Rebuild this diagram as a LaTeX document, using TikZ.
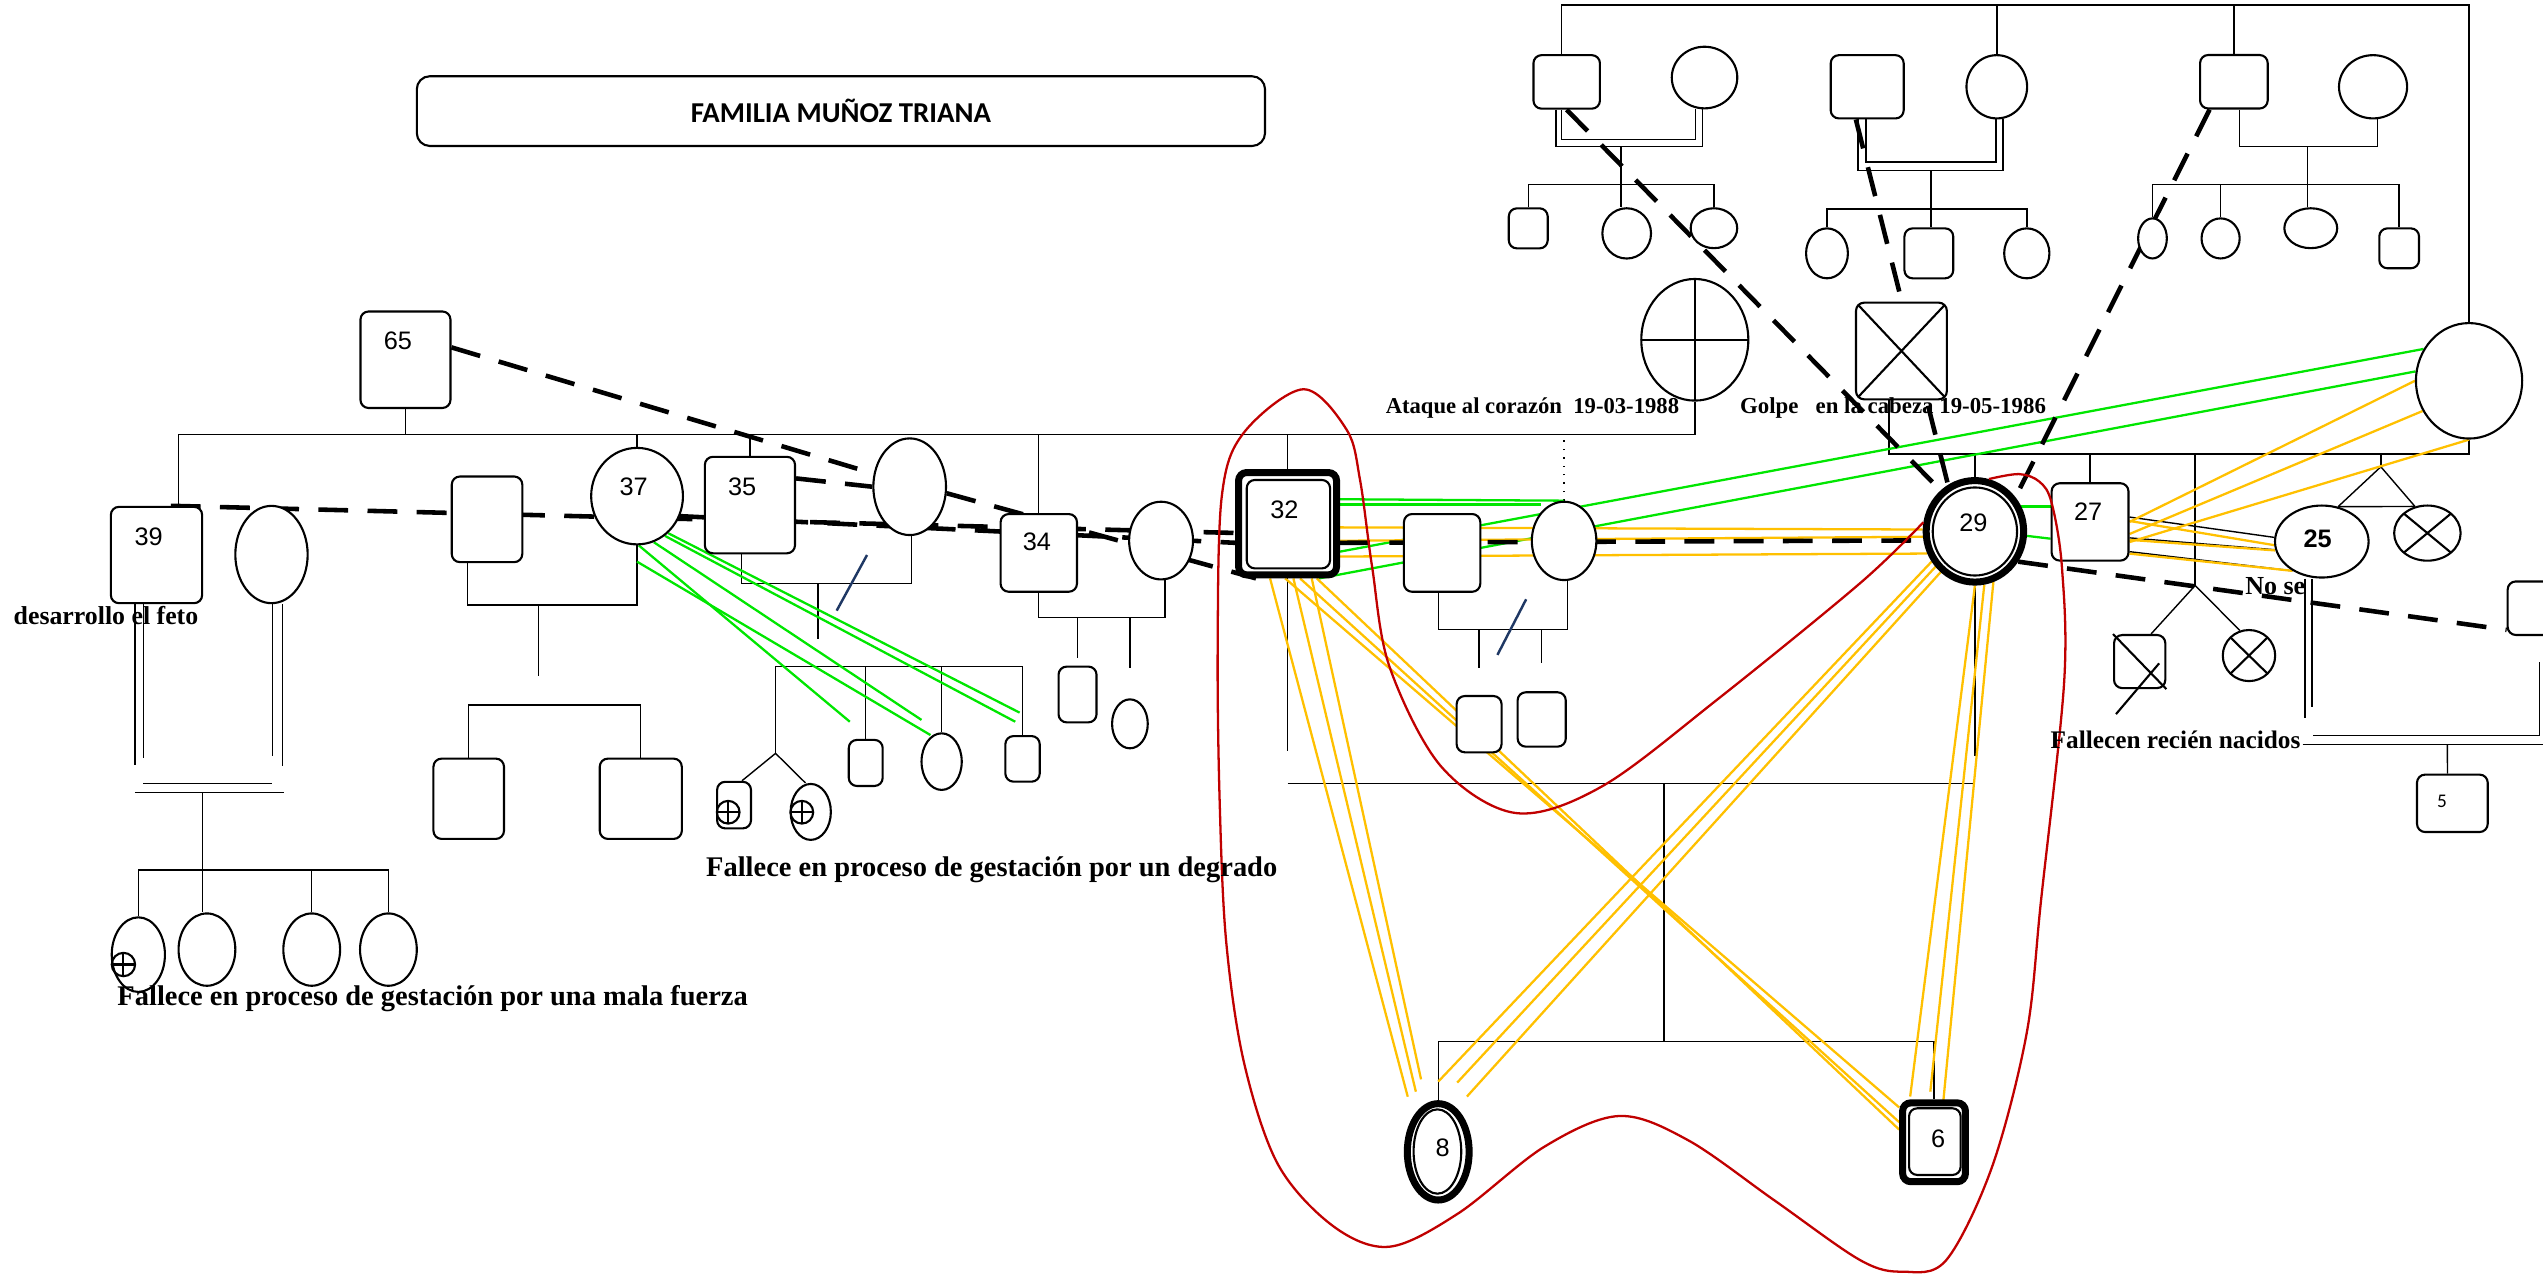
\documentclass[tikz,border=0pt]{standalone}
\usepackage{fontspec}
\setmainfont{Liberation Serif}
\setsansfont{Liberation Sans}
\newfontfamily\titlefont{Carlito}
\usetikzlibrary{
		positioning,
		shapes.geometric,
		backgrounds
	}
\tikzset{
		>=stealth
	}
\definecolor{kingreen}{RGB}{0, 230, 0}
\definecolor{kinamber}{RGB}{255, 192, 0}
\definecolor{loopred}{RGB}{192, 0, 0}
\definecolor{darknavy}{RGB}{31, 56, 100}
\newdimen\gu
\gu=0.016218cm

\begin{document}
\begin{tikzpicture}
		[x=0.016218cm, y=-0.016218cm,
		line width=0.6pt,
		man/.style 2 args= {draw, fill=white, rounded corners=5\gu, minimum width=#1\gu, minimum height=#2\gu, inner sep=0pt},
		woman/.style 2 args= {draw, fill=white, ellipse, minimum width=#1\gu, minimum height=#2\gu, inner sep=0pt},
		index/.style= {line width=2pt},
		gone/.style= {path picture={\draw[line width=0.6pt] (path picture bounding box.north west) -- (path picture bounding box.south east) (path picture bounding box.north east) -- (path picture bounding box.south west);}},
		lost/.style= {path picture={\draw[line width=0.6pt] (path picture bounding box.north) -- (path picture bounding box.south) (path picture bounding box.west) -- (path picture bounding box.east);}},
		lost mark/.style= {draw, circle, minimum size=14\gu, inner sep=0pt, lost},
		age/.style= {font=\sffamily\fontsize{7.2}{8}\selectfont, inner sep=0pt},
		note/.style= {font=\bfseries\fontsize{8.1}{9}\selectfont, inner sep=0pt, anchor=base west},
		bond/.style= {line width=1.3pt, dash pattern=on 8.5pt off 5.5pt},
		green tie/.style= {kingreen, line width=0.65pt},
		amber tie/.style= {kinamber, line width=0.65pt}
		]

		\useasboundingbox (0,0) rectangle (1568,786);

		\node [man={523}{43}, rounded corners=8\gu, font=\titlefont\bfseries\fontsize{8.2}{10}\selectfont] (title) at (518.5,68.5) {FAMILIA MUÑOZ TRIANA};

		\node [man={41}{33}] (gA) at (966,50.5) {};
		\node [woman={40.4}{38}] (gAw) at (1051,47.8) {};
		\node [man={45}{39}] (gB) at (1151.3,53.5) {};
		\node [woman={37.4}{39}] (gBw) at (1231.2,53.5) {};
		\node [man={41.7}{33}] (gC) at (1377.4,50.4) {};
		\node [woman={42}{39}] (gCw) at (1463.2,53.5) {};

		\node [man={24}{24.7}] (a1) at (942.3,140.8) {};
		\node [woman={30}{31}] (a2) at (1003,143.9) {};
		\node [woman={28.7}{24.6}] (a3) at (1056.8,140.7) {};
		\node [woman={25.8}{30.8}] (b1) at (1126.5,156.2) {};
		\node [man={30.1}{30.8}] (b2) at (1189.3,156.2) {};
		\node [woman={27.9}{30.8}] (b3) at (1249.7,156.2) {};
		\node [woman={17.7}{24.7}] (c1) at (1327.2,147) {};
		\node [woman={23.5}{24.7}] (c2) at (1369.2,147) {};
		\node [woman={32.6}{24.6}] (c3) at (1424.8,140.7) {};
		\node [man={24.5}{24.6}] (c4) at (1479.3,153.1) {};

		\node [woman={66}{75}, lost] (w65) at (1045,209.5) {};
		\node [man={56}{59.6}, gone] (hDead) at (1172.4,216.4) {};
		\node [woman={65.5}{71.2}] (bigW) at (1522.4,234.8) {};

		\node [man={55.5}{59.5}] (p65) at (250,221.8) {};
		\node [age] (t65) at (245.3,210.1) {65};

		\node [man={56.3}{59.4}] (p39) at (96.5,342.2) {};
		\node [age] (t39) at (91.7,330.7) {39};
		\node [woman={44.6}{60}] (w39) at (167.4,341.9) {};
		\node [man={43.5}{52.8}] (h37) at (300.3,320.2) {};
		\node [woman={56.6}{59.5}] (p37) at (392.8,305.9) {};
		\node [age] (t37) at (390.7,300.4) {37};
		\node [man={55.6}{59.5}] (p35) at (462.4,311.4) {};
		\node [age] (t35) at (457.6,300.4) {35};
		\node [woman={44.8}{59.6}] (w35) at (560.9,300.1) {};
		\node [man={47.1}{47.9}] (p34) at (640.5,340.9) {};
		\node [age] (t34) at (639.4,334.3) {34};
		\node [woman={39.4}{47.9}] (w34) at (715.9,333.3) {};
		\node [man={60.4}{63.1}, index] (p32) at (793.9,322.9) {};
		\node [man={51.4}{54.5}, fill=none] (p32in) at (794.4,323.2) {};
		\node [age] (t32) at (791.9,314.3) {32};
		\node [man={47.1}{47.9}] (pU) at (889.2,340.9) {};
		\node [woman={39.8}{48.3}] (wU) at (964.4,333.5) {};
		\node [woman={60.1}{62.6}, index] (p29) at (1217.7,327.6) {};
		\node [woman={52}{54.3}, fill=none] (p29in) at (1217.7,327.7) {};
		\node [age] (t29) at (1216.8,322.5) {29};
		\node [man={47.4}{47.7}] (p27) at (1288.7,321.8) {};
		\node [age] (t27) at (1287.5,315.2) {27};
		\node [woman={57.7}{44.4}] (p25) at (1431.6,333.9) {};
		\node [age, font=\sffamily\bfseries\fontsize{7.2}{8}\selectfont] (t25) at (1429,332.3) {25};
		\node [woman={41}{34}, gone] (x25) at (1496.7,328.7) {};
		\node [man={31.6}{32.7}] (dNb1) at (1319.3,407.9) {};
		\node [woman={32.3}{31.5}, gone] (dNb2) at (1386.7,404.2) {};
		\node [man={45}{33}] (pR) at (1568.7,375) {};
		\node [man={43.6}{35.4}] (p5) at (1512.1,495.3) {};
		\node [font=\titlefont\fontsize{5.5}{6}\selectfont, inner sep=0pt] (t5) at (1505.7,494) {5};

		\node [man={43.5}{49.5}] (k37a) at (289,492.5) {};
		\node [man={50.6}{49.5}] (k37b) at (395.1,492.5) {};
		\node [man={20.9}{28.7}] (k35a) at (452.6,496.4) {};
		\node [woman={24.8}{34.5}] (k35b) at (499.9,500.6) {};
		\node [lost mark] (l35a) at (449,500.8) {};
		\node [lost mark] (l35b) at (494.4,500.8) {};
		\node [man={20.9}{28.4}] (k35c) at (533.8,470.4) {};
		\node [woman={24.8}{34.9}] (k35d) at (580.6,469.6) {};
		\node [man={21.2}{28.1}] (k35e) at (630.5,467.9) {};
		\node [man={23.4}{34.4}] (k34a) at (664.4,428.2) {};
		\node [woman={22}{30.2}] (k34b) at (696.7,446.3) {};
		\node [man={27.7}{34.7}] (kUa) at (912,446.5) {};
		\node [man={29.7}{33.5}] (kUb) at (950.6,443.6) {};
		\node [woman={32.8}{46}] (k39a) at (85.3,588.6) {};
		\node [lost mark, minimum size=14.4\gu] (l39a) at (76.1,594.7) {};
		\node [woman={35}{44.6}] (k39b) at (127.6,585.5) {};
		\node [woman={35}{44.6}] (k39c) at (192.2,585.5) {};
		\node [woman={35}{44.6}] (k39d) at (239.5,585.5) {};
		\node [woman={38.1}{59.4}, index] (p8) at (886.8,710.2) {};
		\node [woman={29.4}{52}, fill=none] (p8in) at (886.3,710) {};
		\node [age] (t8) at (889.5,707.5) {8};
		\node [man={38.7}{48.6}, index] (p6) at (1192.5,704.3) {};
		\node [man={31.8}{41.1}, fill=none] (p6in) at (1193,703.9) {};
		\node [age] (t6) at (1195,702.3) {6};

		\draw (dNb1.north west) -- (dNb1.south east);
		\draw ([shift={(12\gu,-1.1\gu)}]dNb1.center) -- ++(-26.6,31.3);

		\coordinate (topL) at (962.8,3);
		\coordinate (mA) at (999.4,90.5);
		\coordinate (mAin) at (999.4,86);
		\coordinate (kA) at (999.4,113.8);
		\coordinate (mB) at (1190.6,105.2);
		\coordinate (mBin) at (1190.6,100);
		\coordinate (kB) at (1190.6,128.8);
		\coordinate (mC) at (1422.7,90.4);
		\coordinate (kC) at (1422.7,113.8);
		\coordinate (sib) at (110,268);
		\coordinate (m39) at (124.8,488.8);
		\coordinate (kid39) at (124.8,536.4);
		\coordinate (m37) at (332,373);
		\coordinate (kid37) at (332,434.7);
		\coordinate (m35) at (504.3,359.7);
		\coordinate (kid35) at (478.2,411);
		\coordinate (tw35) at (478.2,464.5);
		\coordinate (m34) at (678,380.6);
		\coordinate (mU) at (926,388);
		\coordinate (m32) at (1026,483);
		\coordinate (kid32) at (1026,642);
		\coordinate (sib29) at (1164.7,280);
		\coordinate (tw1) at (1468,287.8);
		\coordinate (tw2) at (1353.5,361);
		\coordinate (mR) at (1566,453.5);
		\coordinate (mR2) at (1509,459.2);
		\coordinate (slashA) at (515.9,376.5);
		\coordinate (slashB) at (534.6,342.2);
		\coordinate (slashC) at (923.3,403.8);
		\coordinate (slashD) at (941,369.5);
		\coordinate (gE1) at (524,445);
		\coordinate (gE2) at (568.2,443.9);
		\coordinate (gE3) at (573.7,453.2);
		\coordinate (gE4) at (626,445);
		\coordinate (gE5) at (628.7,439.4);
		\coordinate (o8a) at (868,676.2);
		\coordinate (o8b) at (873,673.1);
		\coordinate (o8c) at (876.2,665.5);
		\coordinate (o8d) at (886.8,666.9);
		\coordinate (o8e) at (898.5,667.5);
		\coordinate (o8f) at (904.5,676.1);
		\coordinate (o6a) at (1177.8,676.1);
		\coordinate (o6b) at (1190.2,673.1);
		\coordinate (o6c) at (1198.3,678.2);

		\begin{pgfonlayer}{background}
		\draw (gA.north -| topL) -- (topL) -| (bigW.north);
		\draw (gBw.north) -- (gBw.north |- topL);
		\draw (gC.north) -- (gC.north |- topL);
		\draw ([xshift=-6.6\gu]gA.south) |- (mA) -| ([xshift=-1.4\gu]gAw.south);
		\draw ([xshift=-3.2\gu]gA.south) |- (mAin) -| ([xshift=-5.7\gu]gAw.south);
		\draw (mA) -- (mA |- a2.north);
		\draw (a1.north) |- (kA) -| (a3.north);
		\draw ([xshift=-5.8\gu]gB.south) |- (mB) -| ([xshift=3.7\gu]gBw.south);
		\draw ([xshift=-0.7\gu]gB.south) |- (mBin) -| ([xshift=-0.6\gu]gBw.south);
		\draw (mB) -- (mB |- b2.north);
		\draw (b1.north) |- (kB) -| (b3.north);
		\draw ([xshift=3.5\gu]gC.south) |- (mC) -| ([xshift=2.8\gu]gCw.south);
		\draw (mC) -- (mC |- c3.north);
		\draw (c1.north) |- (kC) -| (c4.north);
		\draw (c2.north) -- (c2.north |- kC);

		\draw (p39.north -| sib) |- (w65.south |- sib) -- (w65.south);
		\draw (p65.south) -- (p65.south |- sib);
		\draw (p37.north) -- (p37.north |- sib);
		\draw (p35.north) -- (p35.north |- sib);
		\draw (p34.north) -- (p34.north |- sib);
		\draw (p32.north) -- (p32.north |- sib);
		\draw [dotted] (wU.north) -- (wU.north |- sib);

		\draw ([xshift=-13.3\gu]p39.south) -- ++(0,99);
		\draw ([xshift=-8\gu]p39.south) -- ++(0,94.6);
		\draw ([xshift=0.7\gu]w39.south) -- ++(0,93.6);
		\draw ([xshift=6.7\gu]w39.south) -- ++(0,99.8);
		\draw (m39) ++(-41.6,0) -- ++(91.9,0);
		\draw (m39) ++(-36.4,-5.8) -- ++(79.1,0);
		\draw (m39) -- (m39 |- k39b.north);
		\draw (k39a.north) |- (kid39) -| (k39d.north);
		\draw (k39c.north) -- (k39c.north |- kid39);

		\draw ([xshift=-11.9\gu]h37.south) |- (m37) -| (p37.south);
		\draw (m37) -- ++(0,44);
		\draw (k37a.north) |- (kid37) -| (k37b.north);

		\draw ([xshift=-5.1\gu]p35.south) |- (m35) -| ([xshift=1\gu]w35.south);
		\draw (m35) -- ++(0,34.3);
		\draw (tw35) -- (kid35) -| (k35e.north);
		\draw (k35c.north) -- (k35c.north |- kid35);
		\draw (k35d.north) -- (k35d.north |- kid35);
		\draw ([xshift=4.9\gu]k35a.north) -- (tw35) -- ([xshift=-3.3\gu]k35b.north);
		\draw [darknavy, line width=0.7pt] (slashA) -- (slashB);

		\draw (p34.south) |- (m34) -| ([xshift=2.3\gu]w34.south);
		\draw (k34a.north |- m34) -- ++(0,25.3);
		\draw (k34b.north |- m34) -- ++(0,31.4);

		\draw ([xshift=-2.4\gu]pU.south) |- (mU) -| ([xshift=2.1\gu]wU.south);
		\draw (kUa.north |- mU) -- ++(0,24);
		\draw (kUb.north |- mU) -- ++(0,21);
		\draw [darknavy, line width=0.7pt] (slashC) -- (slashD);

		\draw (p32.south) -- ++(0,106.5);
		\draw (p29.south) -- ++(0,105);
		\draw (p32.south |- m32) -- (p29.south |- m32);
		\draw (m32) -- (kid32);
		\draw (p8.north) |- (kid32) -| (p6.north);

		\draw (hDead.south -| sib29) -- (sib29) -| (bigW.south);
		\draw (p29.north) -- (p29.north |- sib29);
		\draw (p27.north) -- (p27.north |- sib29);
		\draw (tw1 |- sib29) -- (tw1);
		\draw (p25.65) -- (tw1) -- (x25.115);
		\draw (p25.65) -- (x25.115);
		\draw (tw2 |- sib29) -- (tw2);
		\draw ([xshift=7\gu]dNb1.north) -- (tw2) -- (dNb2.110);
		\draw ([xshift=-10.3\gu]p25.south) -- ++(0,86);
		\draw ([xshift=-6\gu]p25.south) -- ++(0,79);

		\draw (mR) -- ++(0,-45.5);
		\draw (mR) -- ++(-139.6,0);
		\draw ([xshift=-3\gu]p5.north) -- (mR2);
		\draw (mR2) ++(-89.2,0) -- ++(170,0);

		\draw [green tie] (p37.-88) -- (gE1);
		\draw [green tie] (p37.-70) -- (gE2);
		\draw [green tie] ([yshift=-10\gu]p37.south) -- (gE3);
		\draw [green tie] (p37.-55) -- (gE4);
		\draw [green tie] (p37.-50) -- (gE5);
		\draw [green tie] (p32.25) -- (wU.north);
		\draw [green tie] (p32.20) -- (p32.20 -| wU.north west);
		\draw [green tie] (p32.-28) -- (bigW.145);
		\draw [green tie] (p32.-60) -- (bigW.170);
		\draw [green tie] (p29.28) -- (p29.28 -| p27.west);
		\draw [green tie] (p29.-5) -- (p27.203);

		\draw [amber tie] (p32.-4) -- (p29.178);
		\draw [amber tie] (p32.-18) -- (p29.186);
		\draw [amber tie] (p32.-32) -- (p29.205);
		\draw [amber tie] ([xshift=-10.8\gu]p32.south) -- (o8a);
		\draw [amber tie] ([xshift=3.6\gu]p32.south) -- (o8b);
		\draw [amber tie] ([xshift=14.9\gu]p32.south) -- (o8c);
		\draw [amber tie] ([xshift=-1.5\gu]p32.south) -- (p6.135);
		\draw [amber tie] ([xshift=7.7\gu]p32.south) -- (p6.150);
		\draw [amber tie] ([xshift=18\gu]p32.south) -- (p6.160);
		\draw [amber tie] (p29.215) -- (o8d);
		\draw [amber tie] (p29.222) -- (o8e);
		\draw [amber tie] (p29.230) -- (o8f);
		\draw [amber tie] (p29.-90) -- (o6a);
		\draw [amber tie] (p29.-80) -- (o6b);
		\draw [amber tie] (p29.-70) -- (o6c);
		\draw (p27.7) -- (p25.175);
		\draw (p27.-22) -- (p25.190);
		\draw (p27.-37) -- (p25.225);
		\draw [amber tie] ([yshift=-2.4\gu]p27.7) -- ([yshift=-4.8\gu]p25.175);
		\draw [amber tie] ([yshift=-1.2\gu]p27.-22) -- ([yshift=-0.4\gu]p25.190);
		\draw [amber tie] ([yshift=-1.2\gu]p27.-37) -- (p25.225);
		\draw [amber tie] (p27.0) -- (bigW.180);
		\draw [amber tie] (p27.-17) -- (bigW.213);
		\draw [amber tie] (p27.-27) -- (bigW.south);

		\draw [bond] (p65.15) -- (w35.160);
		\draw [bond] (p35.30) -- (w35.180);
		\draw [bond] (w35.-10) -- (p32.-120);
		\draw [bond] ([xshift=-20\gu]p39.north east) -- (p32.190);
		\draw [bond] (p37.-25) -- (p32.200);
		\draw [bond] (p32.-20) -- (p29.190);
		\draw [bond] (p29.-35) -- (pR.210);
		\draw [bond] (gA.south) -- (p29.130);
		\draw [bond] ([xshift=-7\gu]gB.south) -- (p29.120);
		\draw [bond] ([xshift=-15\gu]gC.south) -- (p29.40);
		\end{pgfonlayer}

		\draw [loopred, line width=0.65pt] plot [smooth, tension=0.55] coordinates {(p29.170) (1147,359.5) (1058.5,431.6) (987.7,484.9) (934.6,501.3) (888.5,472.5) (856.7,410.9) (846,349.3) (838.6,296) (830.4,265.1) (803.6,240) (766.6,267.2) (753.3,306.3) (750.8,400) (752,493) (756,580) (767,655) (788,718) (822,756) (856.7,768.7) (899.2,748.1) (952.3,707) (998.3,688.1) (1040.8,703) (1093.9,740) (1147,777) (1173.4,784.1) (1200,777) (1228.3,719.4) (1249.6,637.2) (1258.5,555) (1272.7,421) (1271.4,350.2) (1265,310) (1257.5,297) (1244.9,292.3) (p29.75)};

		\node [note, font=\bfseries\fontsize{7.35}{9}\selectfont] (n1) at (8,385) {desarrollo el feto};
		\node [note] (n2) at (72,620) {Fallece en proceso de gestación por una mala fuerza};
		\node [note] (n3) at (435,540.5) {Fallece en proceso de gestación por un degrado};
		\node [note, font=\bfseries\fontsize{6.45}{8}\selectfont] (n4) at (854,255) {Ataque al corazón\ \ 19-03-1988};
		\node [note, font=\bfseries\fontsize{6.5}{8}\selectfont] (n5) at (1072.5,254.7) {Golpe\ \ \ en la cabeza 19-05-1986};
		\node [note, font=\bfseries\fontsize{7.2}{8}\selectfont] (n6) at (1264,461.5) {Fallecen recién nacidos};
		\node [note, font=\bfseries\fontsize{7.4}{8}\selectfont] (n7) at (1384,366.7) {No se};

	\end{tikzpicture}
\end{document}
